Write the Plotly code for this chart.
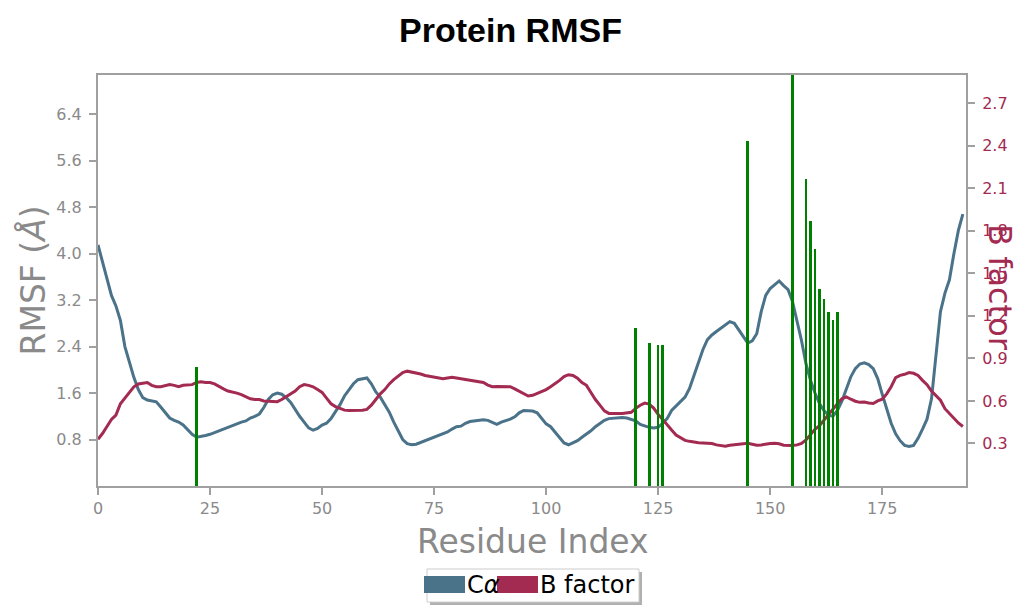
import plotly.graph_objects as go

# Per-residue C-alpha RMSF (Angstrom) and crystallographic B factor
residues = list(range(194))

rmsf_ca = [
    4.15, 3.86, 3.52, 3.28, 3.10, 2.85, 2.40, 2.12, 1.87, 1.66,
    1.52, 1.48, 1.47, 1.45, 1.36, 1.26, 1.17, 1.13, 1.10, 1.05,
    0.97, 0.89, 0.84, 0.85, 0.87, 0.89, 0.92, 0.96, 0.98, 1.01,
    1.05, 1.08, 1.10, 1.12, 1.17, 1.20, 1.24, 1.35, 1.49, 1.57,
    1.60, 1.58, 1.52, 1.44, 1.31, 1.20, 1.10, 1.00, 0.96, 0.99,
    1.05, 1.08, 1.16, 1.28, 1.40, 1.55, 1.66, 1.76, 1.83, 1.85,
    1.86, 1.76, 1.62, 1.53, 1.40, 1.27, 1.10, 0.94, 0.80, 0.73,
    0.71, 0.72, 0.75, 0.78, 0.80, 0.83, 0.86, 0.89, 0.93, 0.98,
    1.02, 1.03, 1.08, 1.11, 1.12, 1.13, 1.14, 1.13, 1.09, 1.06,
    1.10, 1.12, 1.15, 1.19, 1.26, 1.30, 1.30, 1.29, 1.26, 1.17,
    1.07, 1.02, 0.92, 0.82, 0.74, 0.71, 0.74, 0.78, 0.84, 0.89,
    0.95, 1.02, 1.08, 1.13, 1.16, 1.17, 1.18, 1.18, 1.17, 1.15,
    1.12, 1.06, 1.03, 1.01, 1.00, 1.01, 1.08, 1.16, 1.30, 1.38,
    1.45, 1.53, 1.68, 1.90, 2.12, 2.35, 2.52, 2.60, 2.66, 2.72,
    2.78, 2.83, 2.80, 2.68, 2.57, 2.46, 2.50, 2.62, 3.00, 3.28,
    3.40, 3.46, 3.53, 3.45, 3.38, 3.17, 2.85, 2.50, 2.10, 1.82,
    1.60, 1.42, 1.30, 1.22, 1.20, 1.30, 1.46, 1.68, 1.88, 2.02,
    2.10, 2.12, 2.09, 2.02, 1.85, 1.58, 1.32, 1.08, 0.90, 0.78,
    0.70, 0.68, 0.70, 0.82, 0.98, 1.15, 1.50, 2.20, 3.00, 3.32,
    3.55, 4.00, 4.40, 4.68,
]

b_factor = [
    0.330, 0.370, 0.420, 0.470, 0.500, 0.580, 0.620, 0.660, 0.700, 0.720,
    0.725, 0.730, 0.710, 0.700, 0.700, 0.705, 0.715, 0.710, 0.700, 0.710,
    0.710, 0.715, 0.730, 0.735, 0.730, 0.730, 0.720, 0.700, 0.685, 0.670,
    0.665, 0.655, 0.645, 0.630, 0.615, 0.610, 0.610, 0.600, 0.600, 0.595,
    0.595, 0.610, 0.630, 0.650, 0.670, 0.700, 0.715, 0.710, 0.700, 0.680,
    0.660, 0.620, 0.580, 0.560, 0.545, 0.535, 0.532, 0.532, 0.535, 0.535,
    0.540, 0.570, 0.610, 0.650, 0.680, 0.720, 0.750, 0.775, 0.800, 0.810,
    0.805, 0.797, 0.790, 0.780, 0.775, 0.765, 0.760, 0.757, 0.762, 0.767,
    0.762, 0.757, 0.752, 0.742, 0.738, 0.733, 0.730, 0.712, 0.700, 0.702,
    0.703, 0.703, 0.700, 0.685, 0.668, 0.650, 0.635, 0.640, 0.652, 0.665,
    0.680, 0.700, 0.720, 0.745, 0.772, 0.785, 0.780, 0.760, 0.730, 0.710,
    0.660, 0.610, 0.570, 0.530, 0.512, 0.510, 0.511, 0.512, 0.514, 0.520,
    0.548, 0.570, 0.585, 0.578, 0.550, 0.505, 0.470, 0.430, 0.395, 0.360,
    0.340, 0.322, 0.315, 0.308, 0.305, 0.304, 0.303, 0.300, 0.290, 0.283,
    0.280, 0.287, 0.292, 0.293, 0.298, 0.302, 0.295, 0.288, 0.290, 0.297,
    0.300, 0.302, 0.298, 0.288, 0.285, 0.286, 0.290, 0.300, 0.325, 0.365,
    0.400, 0.425, 0.465, 0.505, 0.540, 0.580, 0.615, 0.628, 0.612, 0.598,
    0.590, 0.592, 0.585, 0.582, 0.600, 0.612, 0.650, 0.700, 0.765, 0.780,
    0.788, 0.800, 0.795, 0.780, 0.745, 0.715, 0.670, 0.635, 0.605, 0.545,
    0.510, 0.475, 0.445, 0.420,
]

# Residues with ligand contacts and their bar heights (RMSF scale)
contact_res = [22, 120, 123, 125, 126, 145, 155, 158, 159, 160, 161, 162, 163, 164, 165]
contact_val = [2.04, 2.72, 2.47, 2.43, 2.43, 5.94, 7.30, 5.28, 4.57, 4.08, 3.39, 3.22, 2.99, 2.86, 2.99]

x_ticks = [0, 25, 50, 75, 100, 125, 150, 175]
rmsf_ticks = [0.8, 1.6, 2.4, 3.2, 4.0, 4.8, 5.6, 6.4]
bfac_ticks = [0.3, 0.6, 0.9, 1.2, 1.5, 1.8, 2.1, 2.4, 2.7]

CA_COLOR = "#4a7289"
BF_COLOR = "#a32a50"
BAR_COLOR = "#008000"
GRAY = "#8a8a8a"
SPINE = "#a0a0a0"
FONT = "DejaVu Sans"

W, H = 1021, 606
L, R, T, B = 98, 55, 75, 120
PW, PH = W - L - R, H - T - B


def px_x(px):
    return (px - L) / PW


def px_y(py):
    return (H - B - py) / PH


fig = go.Figure()

fig.add_trace(go.Scatter(
    x=residues, y=rmsf_ca, mode="lines", name="C\u03b1",
    line=dict(color=CA_COLOR, width=3), yaxis="y", showlegend=False,
))
fig.add_trace(go.Scatter(
    x=residues, y=b_factor, mode="lines", name="B factor",
    line=dict(color=BF_COLOR, width=3), yaxis="y2", showlegend=False,
))
fig.add_trace(go.Bar(
    x=contact_res, y=contact_val, width=0.6, marker=dict(color=BAR_COLOR, line=dict(width=0)),
    yaxis="y3", showlegend=False,
))

y_max = 7.075
axis_common = dict(
    showgrid=False, zeroline=False, ticks="outside", ticklen=7, tickwidth=1.5,
    tickcolor=SPINE, showline=True, linecolor=SPINE, linewidth=2,
)

fig.update_layout(
    width=W, height=H,
    margin=dict(l=L, r=R, t=T, b=B),
    paper_bgcolor="white", plot_bgcolor="white",
    font=dict(family=FONT),
    title=dict(
        text="<b>Protein RMSF</b>", x=0.5, xref="container", y=1 - 30 / H,
        yref="container", xanchor="center", yanchor="middle",
        font=dict(family="Liberation Sans, Arial", size=34, color="black"),
    ),
    xaxis=dict(
        range=[0, 193.7], tickvals=x_ticks, ticktext=[str(v) for v in x_ticks],
        tickfont=dict(size=16, color=GRAY, family=FONT), mirror=True, **axis_common,
    ),
    yaxis=dict(
        range=[0, y_max], tickvals=rmsf_ticks, ticktext=[f"{v:.1f}" for v in rmsf_ticks],
        tickfont=dict(size=16, color=GRAY, family=FONT), mirror=True,
        ticklabelstandoff=4, **axis_common,
    ),
    yaxis2=dict(
        range=[0, 2.899], overlaying="y", side="right", anchor="x",
        tickvals=bfac_ticks, ticktext=[f"{v:.1f}" for v in bfac_ticks],
        tickfont=dict(size=16, color=BF_COLOR, family=FONT),
        ticklabelstandoff=4, **axis_common,
    ),
    yaxis3=dict(range=[0, y_max], overlaying="y", visible=False, fixedrange=True),
    bargap=0,
)

# Axis titles
fig.add_annotation(
    text="RMSF (<i>\u00c5</i>)", xref="paper", yref="paper", x=px_x(32), y=0.5,
    textangle=-90, showarrow=False, xanchor="center", yanchor="middle",
    font=dict(family=FONT, size=33, color=GRAY),
)
fig.add_annotation(
    text="B factor", xref="paper", yref="paper", x=px_x(1000), y=px_y(287),
    textangle=90, showarrow=False, xanchor="center", yanchor="middle",
    font=dict(family=FONT, size=32, color=BF_COLOR),
)
fig.add_annotation(
    text="Residue Index", xref="paper", yref="paper", x=px_x(533), y=px_y(541),
    showarrow=False, xanchor="center", yanchor="middle",
    font=dict(family=FONT, size=33, color=GRAY),
)

# Legend box with drop shadow, colour patches and labels
box = (427, 569, 639, 602)
fig.add_shape(
    type="rect", xref="paper", yref="paper",
    x0=px_x(box[0] + 3), x1=px_x(box[2] + 3), y0=px_y(box[3] + 3), y1=px_y(box[1] + 3),
    fillcolor="#b0b0b0", line=dict(width=0), layer="above",
)
fig.add_shape(
    type="rect", xref="paper", yref="paper",
    x0=px_x(box[0]), x1=px_x(box[2]), y0=px_y(box[3]), y1=px_y(box[1]),
    fillcolor="white", line=dict(color="#cccccc", width=1), layer="above",
)
legend_items = [("C<i>\u03b1</i>", CA_COLOR, 424, 465), ("B factor", BF_COLOR, 497, 538)]
for label, color, x0, x1 in legend_items:
    fig.add_shape(
        type="rect", xref="paper", yref="paper",
        x0=px_x(x0), x1=px_x(x1), y0=px_y(593), y1=px_y(576),
        fillcolor=color, line=dict(width=0), layer="above",
    )
    fig.add_annotation(
        text=label, xref="paper", yref="paper", x=px_x(x1), y=px_y(585),
        showarrow=False, xanchor="left", yanchor="middle",
        font=dict(family=FONT, size=24, color="black"),
    )

fig.write_html("out.html")
